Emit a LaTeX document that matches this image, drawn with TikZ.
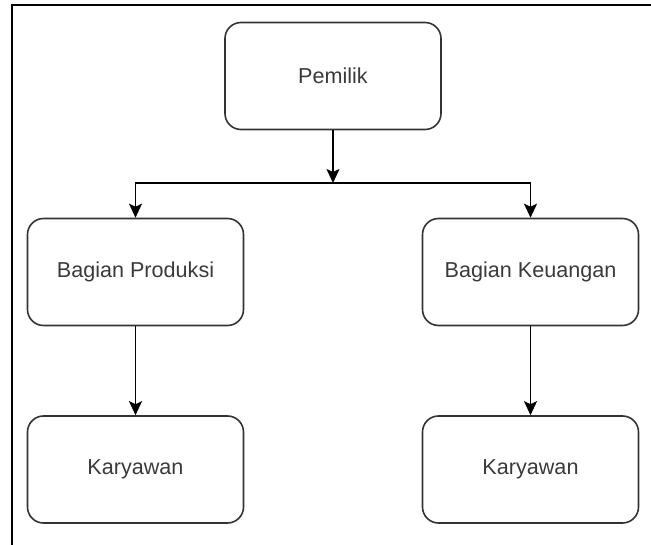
\documentclass[tikz,border=0pt]{standalone}
\usepackage{fontspec}
\setmainfont{Liberation Sans}
\usetikzlibrary{arrows.meta}
\definecolor{boxline}{HTML}{333333}
\definecolor{boxtext}{HTML}{3A3A3A}
\begin{document}
\begin{tikzpicture}[x=1pt,y=-1pt,
  unit/.style={draw=boxline, line width=1.6pt, rounded corners=16pt,
    minimum width=216pt, minimum height=107pt, inner sep=0pt,
    text=boxtext, font=\fontsize{21.6}{26}\selectfont},
  link/.style={draw=black, line width=1.6pt,
    -{Stealth[length=14pt, width=13pt, inset=3pt]}},
  plain/.style={draw=black, line width=1.6pt}]
  \useasboundingbox (0,0) rectangle (651,545);
  % outer frame (left and top edges)
  \draw[line width=2.2pt, line cap=rect] (12,545) -- (12,5) -- (651,5);

  \node[unit] (pemilik) at (333,76) {Pemilik};
  \node[unit] (produksi) at (135.5,272) {Bagian Produksi};
  \node[unit] (keuangan) at (530.5,272) {Bagian Keuangan};
  \node[unit] (karyawanA) at (135.5,469.5) {Karyawan};
  \node[unit] (karyawanB) at (530.5,469.5) {Karyawan};

  \coordinate (split) at (333,183);

  \draw[link] (pemilik) -- (split);
  \draw[link] (split) -| (produksi);
  \draw[link] (split) -| (keuangan);
  \draw[link] (produksi) -- (karyawanA);
  \draw[link] (keuangan) -- (karyawanB);
\end{tikzpicture}
\end{document}
